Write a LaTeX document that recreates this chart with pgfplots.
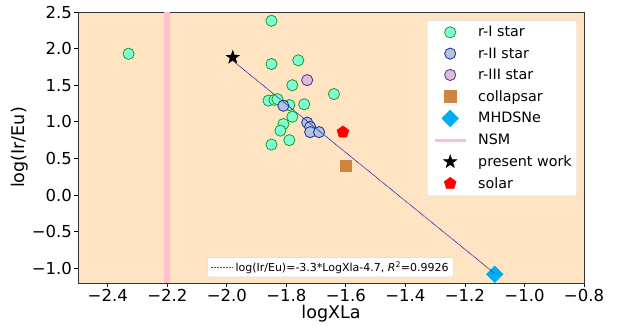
\documentclass[border=0pt]{standalone}
\usepackage{fontspec}
\setmainfont{DejaVu Sans}
\usepackage{pgfplots}
\pgfplotsset{compat=1.18}
\usetikzlibrary{plotmarks}
\definecolor{bisque}{HTML}{FFE4C4}
\definecolor{aquam}{HTML}{7FFFD4}
\definecolor{edgegreen}{HTML}{1E9A1E}
\definecolor{lsteel}{HTML}{B0C4DE}
\definecolor{edgenavy}{HTML}{1F2A9A}
\definecolor{thistlec}{HTML}{D8BFD8}
\definecolor{edgepurple}{HTML}{5A2A8A}
\definecolor{peruc}{HTML}{CD853F}
\definecolor{pinkc}{HTML}{FFC0CB}
\definecolor{fitc}{HTML}{2A2AB0}
\definecolor{fitl}{HTML}{3A3AE0}
\pgfdeclareplotmark{fstar}{%
  \pgfpathmoveto{\pgfpointpolar{90}{\pgfplotmarksize}}%
  \pgfpathlineto{\pgfpointpolar{126}{0.40\pgfplotmarksize}}%
  \pgfpathlineto{\pgfpointpolar{162}{\pgfplotmarksize}}%
  \pgfpathlineto{\pgfpointpolar{198}{0.40\pgfplotmarksize}}%
  \pgfpathlineto{\pgfpointpolar{234}{\pgfplotmarksize}}%
  \pgfpathlineto{\pgfpointpolar{270}{0.40\pgfplotmarksize}}%
  \pgfpathlineto{\pgfpointpolar{306}{\pgfplotmarksize}}%
  \pgfpathlineto{\pgfpointpolar{342}{0.40\pgfplotmarksize}}%
  \pgfpathlineto{\pgfpointpolar{18}{\pgfplotmarksize}}%
  \pgfpathlineto{\pgfpointpolar{54}{0.40\pgfplotmarksize}}%
  \pgfpathclose\pgfusepathqfillstroke}
\begin{document}
\begin{tikzpicture}
\pgfplotsset{
  common/.style={
    scale only axis, width=506pt, height=271pt,
    xmin=-2.5, xmax=-0.8, ymin=-1.2, ymax=2.5,
  },
  mklegend/.style={legend image code/.code={%
    \path (0pt,0pt) (40pt,0pt);
    \draw[mark repeat=2, mark phase=2, ##1] plot coordinates {(0pt,0pt) (17pt,0pt) (40pt,0pt)};}},
}
\begin{axis}[common,
  axis background/.style={fill=bisque},
  axis line style={black!80, line width=0.9pt},
  tick pos=left, tick align=outside,
  major tick length=3.5pt,
  every tick/.style={black, line width=0.8pt},
  xtick={-2.4,-2.2,-2.0,-1.8,-1.6,-1.4,-1.2,-1.0,-0.8},
  xticklabels={−2.4,−2.2,−2.0,−1.8,−1.6,−1.4,−1.2,−1.0,−0.8},
  ytick={-1.0,-0.5,0.0,0.5,1.0,1.5,2.0,2.5},
  yticklabels={−1.0,−0.5,0.0,0.5,1.0,1.5,2.0,2.5},
  ticklabel style={font=\fontsize{16.5}{19}\selectfont},
  xticklabel style={yshift=1pt},
  yticklabel style={xshift=1pt},
  xlabel={logXLa}, ylabel={log(Ir/Eu)},
  label style={font=\fontsize{17.5}{20}\selectfont},
  xlabel style={yshift=3pt},
  ylabel style={yshift=-3pt},
  legend style={at={(0.986,0.970)}, anchor=north east,
    font=\fontsize{14.3}{16}\selectfont, draw=black!15, rounded corners=2pt,
    row sep=5.4pt, inner xsep=3pt, inner ysep=4pt},
  legend cell align=left,
]
\addplot[only marks, mklegend, mark=*, mark size=5.6pt, mark options={fill=aquam, draw=edgegreen, line width=0.8pt}]
coordinates {
(-2.33,1.93) (-1.85,2.38) (-1.85,1.79) (-1.76,1.84) (-1.78,1.50) (-1.64,1.38)
(-1.86,1.29) (-1.84,1.30) (-1.83,1.31) (-1.79,1.23) (-1.74,1.24) (-1.78,1.07)
(-1.81,0.97) (-1.82,0.88) (-1.79,0.75) (-1.85,0.69)
};
\addlegendentry{r-I star}
\addplot[only marks, mklegend, mark=*, mark size=5.6pt, mark options={fill=lsteel, draw=edgenavy, line width=0.8pt}]
coordinates {
(-1.81,1.22) (-1.73,0.99) (-1.72,0.93) (-1.72,0.86) (-1.69,0.86)
};
\addlegendentry{r-II star}
\addplot[only marks, mklegend, mark=*, mark size=5.6pt, mark options={fill=thistlec, draw=edgepurple, line width=0.8pt}]
coordinates {(-1.73,1.57)};
\addlegendentry{r-III star}
\addplot[only marks, mklegend, mark=square*, mark size=5.8pt, mark options={fill=peruc, draw=peruc}]
coordinates {(-1.60,0.40)};
\addlegendentry{collapsar}
\addplot[only marks, mklegend, mark=square*, mark size=5.9pt, mark options={fill=cyan, draw=cyan, rotate=45}]
coordinates {(-1.10,-1.08)};
\addlegendentry{MHDSNe}
\addplot[pinkc, line width=6pt, legend image code/.code={\path (0pt,0pt) (40pt,0pt); \draw[pinkc, line width=3pt] (2pt,0pt) -- (33pt,0pt);}]
coordinates {(-2.2,-1.2) (-2.2,2.5)};
\addlegendentry{NSM}
\addplot[only marks, mklegend, mark=fstar, mark size=7pt, mark options={fill=black, draw=black}]
coordinates {(-1.98,1.88)};
\addlegendentry{present work}
\addplot[only marks, mklegend, mark=pentagon*, mark size=6.3pt, mark options={fill=red, draw=red}]
coordinates {(-1.61,0.86)};
\addlegendentry{solar}
\end{axis}
\begin{axis}[common, hide axis,
  legend style={at={(0.499,0.022)}, anchor=south,
    font=\fontsize{11}{13}\selectfont, draw=black!15, rounded corners=2pt,
    inner xsep=3pt, inner ysep=2pt},
]
\addplot[fitc, line width=0.8pt, dash pattern=on 0.9pt off 0.6pt,
  legend image code/.code={\draw[fitl, line width=1pt, dash pattern=on 0.8pt off 0.7pt] (0cm,0cm) -- (0.78cm,0cm);}]
coordinates {(-1.98,1.834) (-1.10,-1.07)};
\addlegendentry{log(Ir/Eu)=-3.3*LogXla-4.7, {\itshape R}\textsuperscript{2}=0.9926}
\end{axis}
\path ([xshift=-78pt,yshift=-38pt]current axis.south west) rectangle ([xshift=36pt,yshift=12pt]current axis.north east);
\end{tikzpicture}
\end{document}
